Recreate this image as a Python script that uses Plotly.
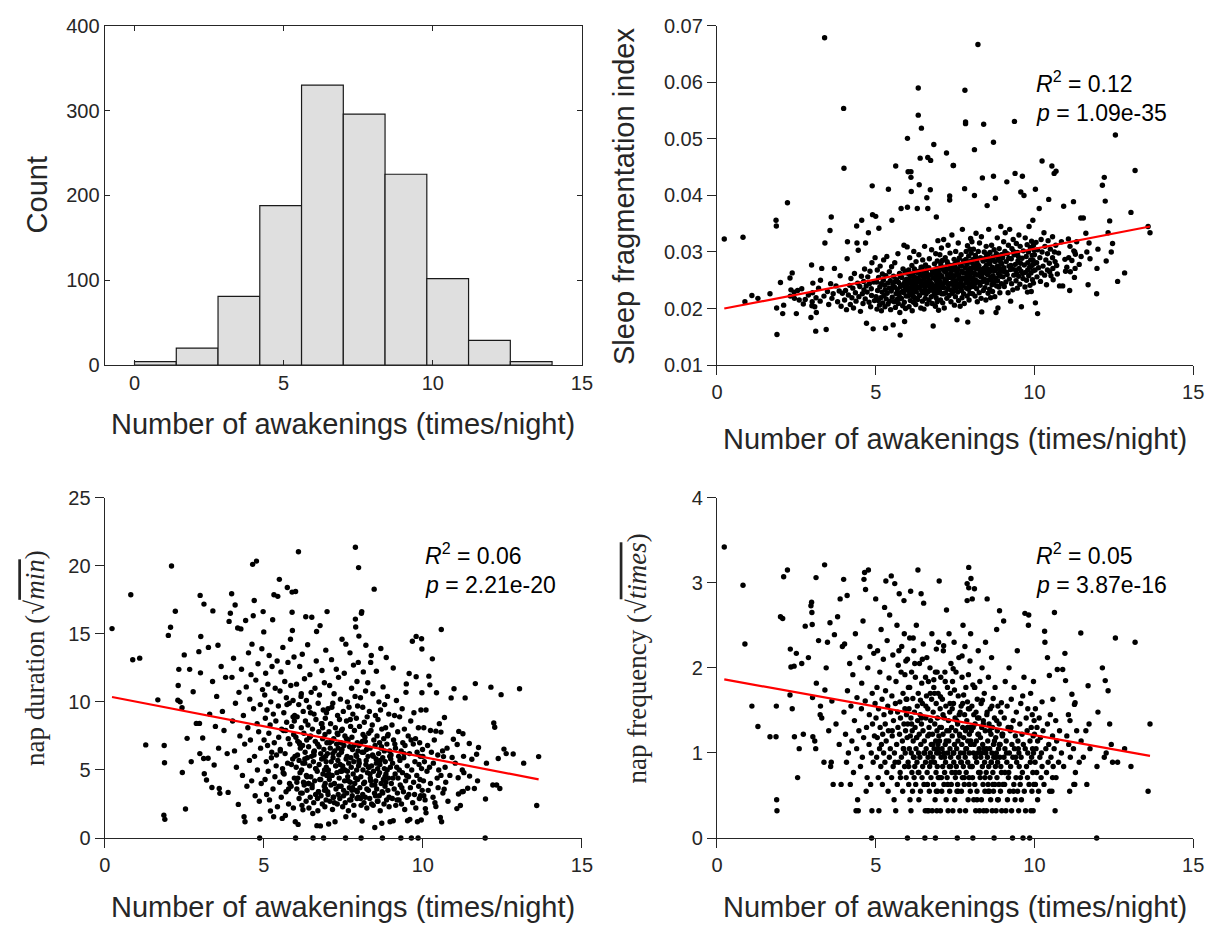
import plotly.graph_objects as go

# ---------------- data ----------------
bin_edges = [0.0, 1.4, 2.8, 4.2, 5.6, 7.0, 8.4, 9.8, 11.2, 12.6, 14.0]
bin_counts = [4, 20, 81, 188, 330, 296, 225, 102, 29, 4]

awakenings = [
    # < 2
    0.23, 0.82, 0.88, 1.10, 1.29, 1.67, 1.86, 1.87, 1.88, 1.89,
    # 2-3
    2.00, 2.07, 2.10, 2.22, 2.30, 2.31, 2.33, 2.37, 2.43, 2.44,
    2.50, 2.54, 2.59, 2.67, 2.72, 2.78, 2.88, 2.96, 2.98, 2.99,
    # 3-4
    3.00, 3.01, 3.02, 3.08, 3.11, 3.12, 3.13, 3.20, 3.25, 3.26,
    3.30, 3.37, 3.39, 3.40, 3.44, 3.48, 3.52, 3.56, 3.58, 3.60,
    3.62, 3.66, 3.70, 3.75, 3.80, 3.85, 3.88, 3.91, 3.95, 3.99,
    # 4-5
    4.00, 4.02, 4.05, 4.08, 4.10, 4.11, 4.14, 4.18, 4.20, 4.22,
    4.25, 4.28, 4.30, 4.33, 4.36, 4.38, 4.40, 4.41, 4.43, 4.45,
    4.47, 4.50, 4.52, 4.55, 4.56, 4.58, 4.60, 4.62, 4.63, 4.65,
    4.67, 4.68, 4.70, 4.71, 4.73, 4.75, 4.77, 4.79, 4.80, 4.82,
    4.84, 4.86, 4.87, 4.88, 4.89, 4.90, 4.92, 4.94, 4.96, 4.98,
    # 5-6
    5.00, 5.01, 5.03, 5.04, 5.05, 5.06, 5.08, 5.09, 5.10, 5.12,
    5.13, 5.14, 5.16, 5.17, 5.18, 5.20, 5.21, 5.22, 5.24, 5.25,
    5.26, 5.28, 5.29, 5.30, 5.31, 5.32, 5.33, 5.35, 5.36, 5.38,
    5.39, 5.40, 5.42, 5.43, 5.44, 5.46, 5.47, 5.49, 5.50, 5.51,
    5.52, 5.54, 5.55, 5.56, 5.58, 5.59, 5.60, 5.62, 5.63, 5.64,
    5.66, 5.67, 5.68, 5.70, 5.71, 5.72, 5.74, 5.75, 5.76, 5.77,
    5.78, 5.80, 5.81, 5.82, 5.84, 5.85, 5.86, 5.88, 5.89, 5.89,
    5.90, 5.91, 5.92, 5.93, 5.94, 5.95, 5.96, 5.97, 5.98, 5.99,
    # 6-7
    6.00, 6.00, 6.01, 6.02, 6.03, 6.04, 6.05, 6.06, 6.07, 6.08,
    6.09, 6.10, 6.11, 6.11, 6.12, 6.13, 6.14, 6.15, 6.16, 6.17,
    6.18, 6.19, 6.20, 6.21, 6.22, 6.23, 6.24, 6.25, 6.26, 6.27,
    6.28, 6.29, 6.30, 6.31, 6.32, 6.33, 6.34, 6.34, 6.35, 6.36,
    6.37, 6.38, 6.39, 6.40, 6.41, 6.42, 6.43, 6.44, 6.45, 6.46,
    6.47, 6.48, 6.49, 6.50, 6.51, 6.52, 6.53, 6.54, 6.55, 6.56,
    6.57, 6.58, 6.59, 6.60, 6.61, 6.62, 6.63, 6.64, 6.64, 6.65,
    6.66, 6.67, 6.68, 6.69, 6.70, 6.71, 6.72, 6.73, 6.74, 6.75,
    6.76, 6.77, 6.78, 6.79, 6.80, 6.81, 6.82, 6.83, 6.84, 6.85,
    6.86, 6.87, 6.88, 6.89, 6.90, 6.905, 6.91, 6.92, 6.925, 6.93,
    6.935, 6.94, 6.945, 6.95, 6.96, 6.965, 6.97, 6.98, 6.985, 6.99,
    # 7-8
    7.00, 7.01, 7.02, 7.03, 7.04, 7.05, 7.06, 7.07, 7.08, 7.09,
    7.10, 7.11, 7.12, 7.13, 7.14, 7.15, 7.16, 7.17, 7.18, 7.19,
    7.20, 7.21, 7.22, 7.23, 7.24, 7.25, 7.26, 7.27, 7.28, 7.29,
    7.30, 7.31, 7.32, 7.33, 7.33, 7.34, 7.35, 7.36, 7.37, 7.38,
    7.39, 7.40, 7.41, 7.42, 7.43, 7.44, 7.45, 7.46, 7.47, 7.48,
    7.49, 7.50, 7.51, 7.52, 7.53, 7.54, 7.55, 7.56, 7.57, 7.58,
    7.58, 7.59, 7.60, 7.61, 7.62, 7.63, 7.64, 7.65, 7.66, 7.67,
    7.68, 7.69, 7.70, 7.71, 7.72, 7.73, 7.74, 7.75, 7.76, 7.77,
    7.78, 7.79, 7.80, 7.81, 7.82, 7.83, 7.83, 7.84, 7.85, 7.86,
    7.87, 7.88, 7.88, 7.89, 7.90, 7.90, 7.91, 7.92, 7.93, 7.93,
    7.94, 7.95, 7.95, 7.96, 7.97, 7.97, 7.98, 7.98, 7.99, 7.99,
    # 8-9
    8.00, 8.01, 8.02, 8.03, 8.04, 8.05, 8.06, 8.07, 8.08, 8.09,
    8.10, 8.11, 8.11, 8.12, 8.13, 8.14, 8.15, 8.16, 8.17, 8.18,
    8.19, 8.20, 8.21, 8.22, 8.23, 8.24, 8.25, 8.26, 8.27, 8.28,
    8.29, 8.30, 8.31, 8.32, 8.33, 8.34, 8.35, 8.36, 8.37, 8.38,
    8.39, 8.40, 8.41, 8.42, 8.43, 8.44, 8.45, 8.46, 8.47, 8.48,
    8.49, 8.50, 8.51, 8.52, 8.53, 8.54, 8.55, 8.56, 8.57, 8.58,
    8.59, 8.60, 8.61, 8.62, 8.63, 8.64, 8.65, 8.66, 8.67, 8.68,
    8.69, 8.70, 8.71, 8.71, 8.72, 8.73, 8.74, 8.75, 8.76, 8.77,
    8.78, 8.79, 8.80, 8.81, 8.82, 8.83, 8.84, 8.85, 8.86, 8.87,
    8.88, 8.89, 8.90, 8.91, 8.92, 8.93, 8.94, 8.96, 8.97, 8.98,
    # 9-10
    9.00, 9.01, 9.03, 9.04, 9.05, 9.07, 9.07, 9.08, 9.10, 9.11,
    9.13, 9.14, 9.15, 9.17, 9.18, 9.20, 9.21, 9.22, 9.24, 9.25,
    9.27, 9.28, 9.29, 9.31, 9.32, 9.33, 9.35, 9.36, 9.37, 9.39,
    9.40, 9.42, 9.43, 9.44, 9.46, 9.47, 9.48, 9.50, 9.51, 9.52,
    9.54, 9.55, 9.57, 9.58, 9.59, 9.61, 9.62, 9.64, 9.65, 9.67,
    9.68, 9.70, 9.71, 9.72, 9.74, 9.75, 9.77, 9.78, 9.79, 9.79,
    9.81, 9.82, 9.83, 9.85, 9.86, 9.87, 9.88, 9.89, 9.90, 9.91,
    9.92, 9.93, 9.94, 9.95, 9.96, 9.96, 9.97, 9.97, 9.98, 9.99,
    # 10-11
    10.00, 10.02, 10.03, 10.03, 10.05, 10.07, 10.08, 10.10, 10.10, 10.13,
    10.15, 10.17, 10.19, 10.21, 10.22, 10.24, 10.24, 10.27, 10.30, 10.32,
    10.33, 10.36, 10.38, 10.41, 10.41, 10.43, 10.45, 10.47, 10.48, 10.50,
    10.52, 10.55, 10.57, 10.57, 10.58, 10.59, 10.62, 10.63, 10.65, 10.67,
    10.68, 10.70, 10.72, 10.76, 10.79, 10.85, 10.89, 10.92, 10.96, 10.98,
    # 11-12
    11.02, 11.07, 11.08, 11.11, 11.12, 11.13, 11.18, 11.23, 11.24, 11.26,
    11.27, 11.28, 11.29, 11.33, 11.41, 11.46, 11.47, 11.54, 11.62, 11.65,
    11.69, 11.72, 11.75, 11.96, 11.97, 12.00,
    # > 12
    12.14, 12.20, 12.23, 12.26, 12.32, 12.37, 12.42, 12.46, 12.55, 12.62,
    12.84, 13.04, 13.17, 13.58, 13.64,
    # dense core (second pass)
    5.52, 5.61, 5.69, 5.78, 5.87, 5.96, 6.04, 6.13, 6.21, 6.29,
    6.36, 6.44, 6.52, 6.58, 6.63, 6.69, 6.74, 6.79, 6.85, 6.91,
    6.96, 7.02, 7.07, 7.12, 7.17, 7.22, 7.27, 7.31, 7.36, 7.41,
    7.46, 7.51, 7.55, 7.60, 7.65, 7.70, 7.74, 7.79, 7.84, 7.89,
    7.94, 7.99, 8.04, 8.09, 8.14, 8.19, 8.24, 8.29, 8.34, 8.39,
    8.44, 8.49, 8.54, 8.59, 8.64, 8.69, 8.74, 8.79, 8.84, 8.89,
    8.94, 8.99, 9.06, 9.12, 9.19, 9.26, 9.34, 9.41, 9.49, 9.56,
    6.07, 6.23, 6.41, 6.57, 6.72, 6.88, 7.04, 7.19, 7.34, 7.48,
    7.63, 7.77, 7.92, 8.06, 8.21, 8.36, 8.51, 8.66, 8.81, 8.96,
    5.73, 5.92, 6.18, 6.47, 6.83, 7.14, 7.44, 7.72, 8.12, 9.63,
]

sleep_fragmentation = [
    # < 2
    0.0323, 0.0326, 0.0212, 0.0223, 0.0218, 0.0226, 0.0356, 0.0346, 0.0201, 0.0154,
    # 2-3
    0.0246, 0.0191, 0.0206, 0.0387, 0.0254, 0.0222, 0.0233, 0.0263, 0.0229, 0.0218,
    0.0191, 0.0232, 0.0215, 0.0235, 0.0208, 0.0216, 0.0224, 0.0184, 0.0277, 0.0205,
    # 3-4
    0.0212, 0.0228, 0.0245, 0.0203, 0.0160, 0.0219, 0.0193, 0.0236, 0.0213, 0.0250,
    0.0271, 0.0222, 0.0679, 0.0316, 0.0163, 0.0230, 0.0207, 0.0338, 0.0244, 0.0362,
    0.0218, 0.0226, 0.0271, 0.0240, 0.0212, 0.0231, 0.0258, 0.0204, 0.0227, 0.0554,
    # 4-5
    0.0448, 0.0215, 0.0232, 0.0198, 0.0288, 0.0318, 0.0224, 0.0241, 0.0207, 0.0253,
    0.0219, 0.0236, 0.0201, 0.0262, 0.0228, 0.0213, 0.0346, 0.0316, 0.0245, 0.0303,
    0.0221, 0.0239, 0.0195, 0.0257, 0.0356, 0.0226, 0.0209, 0.0248, 0.0233, 0.0270,
    0.0217, 0.0316, 0.0240, 0.0174, 0.0229, 0.0256, 0.0334, 0.0211, 0.0244, 0.0266,
    0.0203, 0.0235, 0.0223, 0.0281, 0.0417, 0.0366, 0.0164, 0.0247, 0.0214, 0.0290,
    # 5-6
    0.0363, 0.0221, 0.0247, 0.0199, 0.0268, 0.0232, 0.0214, 0.0255, 0.0342, 0.0206,
    0.0238, 0.0275, 0.0219, 0.0244, 0.0196, 0.0229, 0.0261, 0.0210, 0.0250, 0.0286,
    0.0223, 0.0241, 0.0203, 0.0233, 0.0165, 0.0258, 0.0217, 0.0292, 0.0227, 0.0245,
    0.0208, 0.0411, 0.0236, 0.0265, 0.0213, 0.0249, 0.0198, 0.0231, 0.0274, 0.0356,
    0.0220, 0.0243, 0.0171, 0.0257, 0.0212, 0.0238, 0.0281, 0.0202, 0.0452, 0.0226,
    0.0251, 0.0216, 0.0234, 0.0297, 0.0209, 0.0246, 0.0224, 0.0262, 0.0193, 0.0153,
    0.0239, 0.0377, 0.0218, 0.0255, 0.0230, 0.0205, 0.0270, 0.0243, 0.0228, 0.0312,
    0.0211, 0.0177, 0.0248, 0.0235, 0.0200, 0.0266, 0.0222, 0.0252, 0.0240, 0.0309,
    # 6-7
    0.0379, 0.0501, 0.0245, 0.0442, 0.0222, 0.0268, 0.0203, 0.0251, 0.0290, 0.0234,
    0.0214, 0.0257, 0.0442, 0.0432, 0.0407, 0.0239, 0.0276, 0.0196, 0.0227, 0.0262,
    0.0248, 0.0211, 0.0301, 0.0233, 0.0270, 0.0219, 0.0255, 0.0242, 0.0207, 0.0283,
    0.0229, 0.0264, 0.0246, 0.0377, 0.0216, 0.0253, 0.0590, 0.0542, 0.0236, 0.0295,
    0.0419, 0.0223, 0.0260, 0.0466, 0.0249, 0.0201, 0.0273, 0.0519, 0.0231, 0.0258,
    0.0213, 0.0286, 0.0244, 0.0228, 0.0265, 0.0199, 0.0252, 0.0310, 0.0237, 0.0218,
    0.0277, 0.0247, 0.0226, 0.0263, 0.0396, 0.0208, 0.0241, 0.0467, 0.0377, 0.0256,
    0.0230, 0.0272, 0.0215, 0.0288, 0.0249, 0.0235, 0.0410, 0.0462, 0.0260, 0.0221,
    0.0304, 0.0243, 0.0209, 0.0267, 0.0232, 0.0169, 0.0254, 0.0490, 0.0225, 0.0279,
    0.0240, 0.0262, 0.0204, 0.0297, 0.0250, 0.0219, 0.0362, 0.0236, 0.0271, 0.0246,
    0.0212, 0.0284, 0.0258, 0.0228, 0.0320, 0.0242, 0.0266, 0.0197, 0.0253, 0.0233,
    # 7-8
    0.0262, 0.0231, 0.0295, 0.0248, 0.0215, 0.0279, 0.0240, 0.0307, 0.0226, 0.0256,
    0.0285, 0.0210, 0.0269, 0.0244, 0.0322, 0.0237, 0.0201, 0.0273, 0.0251, 0.0290,
    0.0228, 0.0264, 0.0247, 0.0475, 0.0218, 0.0283, 0.0259, 0.0235, 0.0312, 0.0242,
    0.0270, 0.0223, 0.0255, 0.0399, 0.0392, 0.0298, 0.0233, 0.0276, 0.0212, 0.0261,
    0.0245, 0.0330, 0.0227, 0.0268, 0.0252, 0.0453, 0.0453, 0.0239, 0.0287, 0.0206,
    0.0258, 0.0274, 0.0221, 0.0301, 0.0249, 0.0236, 0.0265, 0.0180, 0.0282, 0.0243,
    0.0229, 0.0270, 0.0316, 0.0214, 0.0260, 0.0289, 0.0238, 0.0253, 0.0204, 0.0277,
    0.0247, 0.0295, 0.0232, 0.0266, 0.0219, 0.0340, 0.0254, 0.0241, 0.0284, 0.0226,
    0.0263, 0.0209, 0.0412, 0.0586, 0.0272, 0.0527, 0.0530, 0.0245, 0.0301, 0.0236,
    0.0257, 0.0278, 0.0222, 0.0311, 0.0176, 0.0250, 0.0268, 0.0234, 0.0293, 0.0244,
    0.0215, 0.0283, 0.0261, 0.0240, 0.0305, 0.0227, 0.0271, 0.0252, 0.0324, 0.0238,
    # 8-9
    0.0265, 0.0298, 0.0243, 0.0318, 0.0272, 0.0226, 0.0287, 0.0254, 0.0305, 0.0239,
    0.0276, 0.0481, 0.0400, 0.0261, 0.0222, 0.0294, 0.0250, 0.0333, 0.0270, 0.0235,
    0.0282, 0.0212, 0.0259, 0.0667, 0.0301, 0.0247, 0.0275, 0.0228, 0.0316, 0.0263,
    0.0241, 0.0290, 0.0256, 0.0218, 0.0327, 0.0194, 0.0268, 0.0431, 0.0248, 0.0284,
    0.0232, 0.0526, 0.0271, 0.0300, 0.0252, 0.0237, 0.0289, 0.0264, 0.0215, 0.0310,
    0.0277, 0.0245, 0.0382, 0.0260, 0.0293, 0.0227, 0.0269, 0.0340, 0.0251, 0.0280,
    0.0234, 0.0299, 0.0266, 0.0219, 0.0285, 0.0255, 0.0312, 0.0242, 0.0273, 0.0230,
    0.0291, 0.0258, 0.0494, 0.0434, 0.0246, 0.0304, 0.0267, 0.0221, 0.0283, 0.0395,
    0.0253, 0.0193, 0.0297, 0.0240, 0.0274, 0.0325, 0.0249, 0.0201, 0.0286, 0.0262,
    0.0238, 0.0306, 0.0271, 0.0228, 0.0292, 0.0257, 0.0345, 0.0244, 0.0279, 0.0266,
    # 9-10
    0.0290, 0.0256, 0.0318, 0.0272, 0.0239, 0.0301, 0.0265, 0.0334, 0.0247, 0.0283,
    0.0424, 0.0260, 0.0297, 0.0228, 0.0312, 0.0275, 0.0252, 0.0340, 0.0269, 0.0213,
    0.0288, 0.0244, 0.0306, 0.0270, 0.0233, 0.0322, 0.0259, 0.0295, 0.0531, 0.0439,
    0.0278, 0.0249, 0.0315, 0.0262, 0.0236, 0.0299, 0.0284, 0.0257, 0.0330, 0.0271,
    0.0243, 0.0310, 0.0406, 0.0266, 0.0203, 0.0289, 0.0434, 0.0253, 0.0302, 0.0400,
    0.0277, 0.0238, 0.0325, 0.0264, 0.0292, 0.0250, 0.0313, 0.0229, 0.0281, 0.0268,
    0.0300, 0.0258, 0.0345, 0.0273, 0.0241, 0.0308, 0.0286, 0.0263, 0.0230, 0.0319,
    0.0276, 0.0294, 0.0251, 0.0356, 0.0267, 0.0285, 0.0312, 0.0245, 0.0279, 0.0303,
    # 10-11
    0.0295, 0.0268, 0.0411, 0.0210, 0.0317, 0.0281, 0.0256, 0.0191, 0.0304, 0.0272,
    0.0377, 0.0290, 0.0248, 0.0322, 0.0263, 0.0461, 0.0300, 0.0275, 0.0334, 0.0259,
    0.0310, 0.0286, 0.0242, 0.0297, 0.0268, 0.0320, 0.0393, 0.0280, 0.0265, 0.0305,
    0.0258, 0.0452, 0.0290, 0.0327, 0.0271, 0.0251, 0.0439, 0.0300, 0.0283, 0.0312,
    0.0443, 0.0276, 0.0261, 0.0298, 0.0240, 0.0318, 0.0240, 0.0381, 0.0287, 0.0266,
    # 11-12
    0.0273, 0.0323, 0.0290, 0.0232, 0.0310, 0.0265, 0.0285, 0.0389, 0.0302, 0.0255,
    0.0300, 0.0271, 0.0296, 0.0318, 0.0278, 0.0360, 0.0292, 0.0360, 0.0333, 0.0300,
    0.0242, 0.0316, 0.0288, 0.0226, 0.0271, 0.0305,
    # > 12
    0.0418, 0.0432, 0.0390, 0.0284, 0.0334, 0.0355, 0.0300, 0.0315, 0.0507, 0.0248,
    0.0263, 0.0370, 0.0444, 0.0345, 0.0334,
    # dense core (second pass)
    0.0236, 0.0248, 0.0229, 0.0257, 0.0242, 0.0233, 0.0261, 0.0245, 0.0252, 0.0238,
    0.0266, 0.0244, 0.0255, 0.0231, 0.0270, 0.0249, 0.0259, 0.0240, 0.0264, 0.0253,
    0.0246, 0.0272, 0.0258, 0.0237, 0.0266, 0.0251, 0.0279, 0.0243, 0.0262, 0.0256,
    0.0270, 0.0248, 0.0283, 0.0259, 0.0241, 0.0275, 0.0264, 0.0252, 0.0287, 0.0260,
    0.0268, 0.0255, 0.0281, 0.0263, 0.0290, 0.0247, 0.0276, 0.0269, 0.0258, 0.0285,
    0.0272, 0.0296, 0.0261, 0.0279, 0.0250, 0.0288, 0.0267, 0.0293, 0.0275, 0.0259,
    0.0282, 0.0270, 0.0297, 0.0264, 0.0289, 0.0276, 0.0301, 0.0268, 0.0292, 0.0280,
    0.0228, 0.0254, 0.0239, 0.0262, 0.0246, 0.0234, 0.0257, 0.0269, 0.0244, 0.0278,
    0.0253, 0.0282, 0.0266, 0.0248, 0.0274, 0.0262, 0.0286, 0.0256, 0.0271, 0.0295,
    0.0217, 0.0263, 0.0221, 0.0273, 0.0237, 0.0226, 0.0231, 0.0239, 0.0244, 0.0262,
]

nap_duration = [
    # < 2
    15.38, 17.87, 13.09, 13.21, 6.84, 10.15, 1.68, 6.80, 5.53, 1.37,
    # 2-3
    14.88, 15.48, 19.98, 16.65, 10.12, 11.20, 12.39, 10.00, 9.57, 4.81,
    13.45, 2.13, 7.32, 12.39, 5.60, 10.74, 8.42, 13.69, 8.42, 6.20,
    # 3-4
    17.82, 12.13, 14.80, 7.35, 5.84, 17.18, 4.72, 4.26, 5.86, 14.00,
    9.10, 3.71, 11.50, 16.68, 5.36, 8.20, 10.40, 14.16, 6.60, 3.64,
    3.28, 12.60, 9.30, 7.90, 11.80, 6.20, 3.35, 15.91, 16.51, 17.94,
    # 4-5
    11.8, 8.6, 13.2, 6.4, 17.11, 9.9, 5.2, 15.43, 2.47, 10.7,
    7.5, 15.36, 12.4, 4.6, 9.0, 1.56, 6.9, 1.20, 15.98, 11.1,
    3.8, 8.1, 13.6, 5.7, 10.2, 7.2, 12.0, 4.2, 14.24, 20.10,
    16.32, 9.5, 17.44, 6.0, 3.1, 11.6, 20.34, 8.4, 5.0, 12.8,
    7.8, 2.7, 0.0, 1.39, 9.8, 6.6, 4.0, 13.9, 10.9, 16.63,
    # 5-6
    15.14, 7.2, 10.5, 4.3, 8.8, 12.1, 5.6, 3.2, 9.4, 6.8,
    11.3, 4.9, 7.7, 13.4, 2.8, 8.3, 1.99, 10.0, 5.9, 6.3,
    12.6, 16.03, 3.6, 9.1, 1.56, 17.87, 7.0, 4.5, 11.0, 8.6,
    5.3, 6.1, 13.0, 2.3, 17.75, 9.7, 7.4, 19.0, 4.1, 10.8,
    6.5, 12.2, 3.0, 8.0, 1.44, 5.1, 14.0, 7.9, 9.2, 4.7,
    11.5, 6.2, 1.65, 3.4, 10.3, 8.5, 18.40, 5.5, 12.9, 7.3,
    2.5, 9.9, 4.0, 6.9, 14.6, 11.2, 3.8, 8.2, 18.06, 16.58,
    15.24, 5.8, 10.1, 2.2, 7.6, 13.3, 4.4, 9.0, 6.0, 1.2,
    # 6-7
    18.11, 0.0, 7.4, 5.2, 11.3, 3.6, 8.9, 6.1, 4.4, 1.0,
    21.03, 9.8, 5.7, 2.9, 7.0, 12.6, 4.8, 6.6, 3.3, 10.4,
    8.1, 5.0, 2.4, 13.5, 6.8, 2.08, 9.3, 4.1, 7.7, 3.9,
    11.7, 5.5, 6.3, 8.6, 16.25, 2.7, 4.6, 10.1, 7.2, 3.5,
    5.9, 14.2, 8.3, 4.0, 6.7, 2.2, 9.6, 5.3, 12.0, 3.0,
    7.5, 4.5, 10.7, 6.0, 16.22, 3.7, 8.0, 1.8, 0.0, 5.6,
    2.6, 9.1, 6.4, 4.2, 11.0, 7.1, 3.2, 5.1, 8.7, 13.0,
    15.17, 0.91, 4.9, 6.9, 2.0, 9.9, 3.4, 7.8, 5.4, 10.5,
    4.3, 15.60, 0.89, 6.2, 3.1, 8.4, 5.8, 12.3, 2.5, 7.3,
    4.7, 9.4, 0.0, 6.5, 3.8, 11.4, 5.0, 2.3, 7.6, 4.0,
    8.8, 3.6, 6.0, 13.8, 2.8, 5.2, 9.2, 4.6, 7.0, 16.63,
    # 7-8
    6.2, 3.4, 9.5, 5.0, 1.03, 7.8, 4.3, 11.2, 2.7, 6.6,
    8.4, 3.9, 5.6, 13.1, 7.1, 4.6, 2.1, 9.9, 5.9, 3.0,
    7.3, 10.6, 4.0, 6.4, 1.20, 8.1, 5.3, 3.6, 12.4, 6.9,
    4.8, 2.5, 9.0, 5.7, 7.6, 3.2, 11.8, 6.1, 4.4, 8.7,
    2.9, 5.4, 10.2, 7.0, 3.8, 6.3, 4.9, 14.6, 8.0, 2.3,
    5.1, 9.3, 3.5, 6.8, 12.1, 4.2, 7.5, 2.6, 0.0, 14.24,
    1.56, 5.8, 8.6, 3.3, 6.0, 10.0, 4.5, 7.2, 2.0, 5.5,
    9.6, 3.7, 6.7, 13.6, 4.1, 8.2, 2.8, 5.2, 11.0, 7.4,
    3.1, 6.5, 9.1, 4.7, 12.7, 5.6, 2.4, 1.68, 7.9, 4.0,
    10.4, 21.36, 16.08, 15.50, 6.1, 3.5, 8.8, 5.0, 11.5, 2.9,
    7.0, 4.3, 9.7, 6.4, 3.0, 12.9, 5.3, 19.86, 14.83, 6.8,
    # 8-9
    5.5, 8.2, 3.7, 6.9, 10.3, 4.5, 0.0, 16.51, 16.63, 1.25,
    7.1, 3.2, 9.6, 5.0, 12.2, 6.3, 2.6, 8.5, 4.1, 7.4,
    3.0, 10.8, 14.16, 5.7, 6.5, 2.2, 8.9, 4.8, 11.4, 6.0,
    3.5, 7.7, 5.2, 9.3, 2.9, 6.6, 4.4, 12.9, 7.9, 13.40,
    5.3, 3.9, 8.3, 6.1, 10.6, 2.4, 4.9, 7.2, 18.28, 3.3,
    0.77, 6.8, 9.0, 4.2, 5.8, 12.25, 3.6, 7.5, 2.7, 5.1,
    8.7, 4.6, 6.2, 10.0, 3.1, 7.0, 5.4, 2.0, 9.4, 13.92,
    4.0, 6.7, 1.08, 8.0, 3.4, 0.0, 5.9, 11.1, 4.3, 7.3,
    2.5, 6.4, 9.8, 3.8, 5.6, 8.1, 4.7, 13.26, 2.8, 6.9,
    5.0, 10.4, 3.5, 7.6, 4.4, 9.1, 2.3, 6.0, 1.20, 5.2,
    # 9-10
    6.1, 4.0, 8.3, 2.9, 5.5, 12.49, 1.27, 7.2, 3.6, 9.0,
    4.7, 6.6, 2.4, 10.1, 5.2, 3.3, 7.8, 4.4, 6.0, 2.8,
    8.9, 5.7, 3.9, 0.0, 6.4, 2.5, 9.5, 4.8, 7.0, 3.4,
    5.9, 8.0, 2.1, 6.8, 4.2, 10.7, 11.32, 3.0, 5.3, 1.27,
    7.5, 4.5, 12.08, 6.2, 1.37, 3.7, 8.6, 0.0, 5.0, 14.45,
    2.6, 6.9, 4.1, 9.2, 3.2, 5.6, 7.3, 2.2, 14.81, 11.84,
    4.6, 6.3, 1.20, 0.0, 8.1, 3.8, 5.4, 2.9, 7.0, 4.3,
    6.0, 3.1, 9.4, 1.32, 5.1, 14.64, 13.88, 10.67, 3.5, 6.5,
    # 10-11
    6.0, 4.2, 8.1, 3.1, 5.6, 2.8, 2.16, 9.40, 1.85, 4.9,
    6.8, 3.5, 11.89, 5.2, 11.25, 7.90, 4.0, 6.3, 13.16, 3.0,
    5.5, 7.2, 2.6, 7.85, 2.32, 10.67, 4.4, 6.1, 3.7, 5.0,
    8.4, 1.51, 7.78, 4.60, 15.31, 1.20, 6.4, 3.3, 5.98, 3.59,
    8.85, 5.2, 4.1, 6.6, 2.7, 4.60, 10.29, 5.91, 7.25, 10.96,
    # 11-12
    5.5, 2.16, 6.87, 4.43, 3.23, 7.83, 2.39, 3.40, 5.0, 7.66,
    3.42, 6.0, 4.8, 10.29, 3.66, 6.94, 4.55, 5.79, 3.64, 11.34,
    6.15, 4.2, 6.65, 0.0, 2.87, 5.5,
    # > 12
    11.08, 3.90, 8.45, 8.14, 3.90, 5.84, 3.64, 10.53, 6.53, 6.20,
    6.17, 10.96, 5.50, 2.39, 5.98,
    # dense core (second pass)
    6.4, 4.8, 7.9, 3.6, 5.4, 8.6, 4.1, 6.9, 3.3, 5.8,
    4.5, 7.4, 3.9, 6.1, 5.1, 2.9, 6.7, 4.3, 8.1, 3.5,
    5.6, 3.2, 7.0, 4.6, 6.2, 2.6, 5.3, 7.7, 3.8, 4.9,
    6.5, 3.1, 5.0, 7.3, 4.2, 2.8, 5.9, 3.7, 6.8, 4.4,
    3.4, 5.7, 2.9, 6.3, 4.0, 7.1, 3.6, 5.2, 4.7, 2.5,
    6.0, 3.9, 5.5, 2.7, 4.8, 6.6, 3.3, 5.1, 4.1, 7.5,
    3.0, 5.8, 4.4, 6.9, 2.8, 5.0, 3.7, 6.2, 4.6, 3.2,
    7.1, 5.5, 4.0, 6.3, 3.4, 5.9, 4.7, 3.0, 6.6, 5.3,
    4.9, 3.5, 6.0, 2.4, 5.4, 4.2, 3.1, 5.7, 4.5, 6.4,
    9.8, 8.9, 10.6, 9.2, 8.4, 9.6, 7.9, 8.7, 7.6, 7.2,
]

nap_frequency = [
    # < 2
    3.42, 2.97, 2.28, 1.55, 1.31, 1.19, 1.19, 1.55, 0.45, 0.32,
    # 2-3
    2.60, 2.58, 3.07, 3.15, 1.68, 2.22, 2.01, 1.52, 2.02, 1.19,
    2.17, 0.71, 1.05, 2.05, 1.22, 2.49, 2.12, 2.73, 2.77, 2.65,
    # 3-4
    2.51, 1.65, 1.19, 1.14, 1.05, 3.06, 1.82, 2.32, 1.45, 1.55,
    1.41, 0.89, 3.21, 1.74, 2.00, 2.30, 1.26, 2.53, 0.84, 0.89,
    1.61, 0.63, 2.39, 1.34, 2.60, 1.10, 2.81, 0.63, 2.25, 3.04,
    # 4-5
    1.48, 2.28, 1.22, 0.89, 2.85, 1.73, 1.00, 2.05, 0.63, 1.55,
    1.14, 1.92, 0.77, 1.38, 2.40, 0.32, 1.05, 1.65, 0.45, 0.32,
    1.26, 2.12, 0.84, 1.52, 1.82, 0.95, 2.55, 1.18, 3.04, 3.12,
    1.61, 2.92, 0.55, 1.30, 0.71, 2.00, 3.15, 1.10, 1.45, 2.25,
    0.63, 1.00, 0.0, 0.32, 1.70, 1.34, 0.89, 2.17, 1.20, 1.58,
    # 5-6
    2.81, 1.41, 0.95, 1.77, 1.18, 2.20, 0.71, 1.52, 0.32, 1.05,
    1.95, 1.30, 0.84, 2.45, 1.10, 1.63, 0.63, 1.22, 2.10, 1.00,
    1.45, 2.71, 0.89, 1.34, 1.73, 3.02, 1.14, 0.77, 2.32, 1.55,
    0.55, 1.26, 1.88, 0.95, 2.62, 1.05, 1.48, 3.08, 0.71, 1.67,
    1.20, 2.15, 0.84, 1.38, 0.45, 1.00, 2.99, 1.58, 0.32, 1.84,
    1.10, 2.50, 0.63, 1.30, 2.03, 0.89, 2.87, 1.22, 1.60, 0.77,
    1.41, 1.95, 0.95, 2.25, 1.14, 0.55, 1.70, 1.05, 2.79, 1.34,
    2.40, 0.84, 1.52, 1.00, 1.26, 2.08, 0.71, 1.45, 1.63, 1.18,
    # 6-7
    2.10, 0.0, 1.34, 0.89, 1.77, 0.63, 1.52, 1.05, 2.35, 0.45,
    1.20, 2.90, 0.32, 1.41, 1.00, 1.95, 0.77, 1.26, 0.55, 1.64,
    1.14, 0.95, 2.20, 0.71, 1.48, 0.84, 1.30, 1.89, 0.63, 1.05,
    2.50, 1.18, 0.89, 1.55, 1.38, 3.15, 0.77, 1.70, 1.00, 0.45,
    1.22, 2.05, 0.95, 1.45, 0.55, 1.10, 2.87, 1.34, 1.82, 0.71,
    1.58, 0.84, 1.26, 2.28, 2.76, 0.63, 1.14, 1.00, 0.0, 0.32,
    0.89, 1.41, 1.05, 1.67, 2.12, 0.77, 0.32, 1.20, 1.52, 0.95,
    1.84, 0.32, 1.30, 0.55, 0.84, 2.00, 1.00, 1.38, 0.71, 1.10,
    1.63, 2.40, 0.32, 1.22, 0.95, 1.48, 0.63, 1.77, 1.05, 0.89,
    1.34, 0.45, 0.0, 1.14, 0.77, 1.58, 2.22, 1.00, 0.32, 1.26,
    1.95, 0.84, 1.41, 0.55, 1.10, 1.70, 0.71, 2.30, 1.00, 1.20,
    # 7-8
    3.02, 1.14, 0.71, 1.52, 0.32, 1.89, 0.95, 1.30, 0.55, 1.05,
    1.63, 0.84, 1.22, 2.20, 1.00, 0.63, 1.41, 0.77, 1.95, 1.10,
    0.89, 1.55, 0.45, 2.68, 1.26, 0.71, 1.77, 1.00, 0.32, 1.38,
    1.14, 2.40, 0.84, 1.48, 0.55, 1.05, 1.70, 0.95, 2.05, 0.63,
    1.30, 0.77, 1.20, 1.84, 0.32, 1.00, 1.58, 0.89, 2.30, 1.10,
    0.45, 1.41, 0.71, 1.26, 1.95, 0.84, 1.05, 0.55, 0.0, 1.34,
    0.63, 1.14, 1.67, 0.95, 2.12, 0.77, 1.22, 0.32, 1.48, 1.00,
    0.89, 1.55, 0.55, 1.10, 1.89, 0.71, 1.30, 2.50, 0.84, 1.18,
    1.00, 0.63, 1.45, 2.25, 0.95, 1.26, 0.32, 1.77, 0.77, 1.05,
    1.38, 2.79, 2.99, 1.60, 0.89, 1.14, 0.45, 1.92, 3.18, 2.94,
    0.71, 1.22, 1.00, 1.52, 0.84, 2.08, 1.30, 0.55, 2.40, 1.10,
    # 8-9
    3.05, 1.26, 0.84, 1.55, 2.81, 0.71, 0.0, 1.30, 1.00, 0.45,
    1.10, 2.93, 1.77, 0.63, 1.34, 0.95, 0.32, 1.48, 1.14, 0.89,
    0.55, 1.63, 1.00, 1.22, 2.20, 0.77, 1.41, 1.05, 0.32, 1.84,
    0.71, 1.18, 0.95, 1.58, 0.45, 1.30, 2.00, 0.84, 1.10, 0.63,
    1.38, 0.32, 1.05, 1.70, 0.89, 0.55, 1.26, 2.30, 1.00, 0.77,
    0.32, 1.45, 2.81, 0.95, 1.14, 0.63, 1.89, 0.84, 1.34, 0.55,
    1.05, 0.71, 1.52, 0.45, 1.22, 0.89, 2.12, 1.00, 0.32, 1.30,
    0.77, 1.64, 0.55, 1.10, 0.95, 0.0, 1.41, 0.63, 1.77, 0.84,
    1.18, 0.32, 1.00, 2.45, 0.71, 1.26, 0.89, 1.55, 0.45, 1.05,
    0.63, 1.34, 2.67, 0.95, 1.10, 0.55, 1.48, 0.77, 0.32, 1.22,
    # 9-10
    1.22, 0.63, 2.55, 0.95, 1.41, 0.77, 1.05, 1.84, 0.32, 1.14,
    0.89, 1.55, 0.45, 1.30, 0.71, 2.00, 1.00, 0.55, 1.26, 0.84,
    1.63, 0.32, 1.10, 0.0, 0.95, 1.38, 0.63, 1.77, 1.05, 0.45,
    1.20, 0.71, 1.48, 0.89, 2.20, 0.55, 1.14, 0.32, 1.00, 0.84,
    1.34, 0.63, 1.58, 0.95, 0.45, 1.22, 0.77, 0.0, 1.10, 1.89,
    0.55, 2.64, 1.05, 0.32, 1.41, 0.84, 1.26, 0.71, 1.00, 1.52,
    2.50, 2.62, 0.63, 0.0, 1.14, 0.89, 1.70, 0.32, 1.30, 0.95,
    0.55, 1.45, 1.05, 0.77, 1.20, 0.32, 1.84, 1.00, 0.63, 1.38,
    # 10-11
    1.22, 0.89, 1.52, 0.63, 1.05, 0.77, 1.30, 1.14, 0.45, 0.55,
    1.41, 0.95, 1.18, 0.71, 1.00, 1.60, 0.84, 1.26, 0.63, 2.43,
    2.30, 1.05, 0.77, 2.12, 1.34, 0.89, 1.10, 1.91, 0.55, 1.45,
    0.95, 0.55, 1.20, 0.71, 1.63, 0.84, 1.05, 2.65, 0.32, 1.38,
    0.71, 1.14, 1.98, 0.89, 1.26, 1.00, 1.98, 0.84, 2.17, 1.85,
    # 11-12
    1.20, 1.45, 1.10, 0.55, 1.38, 0.95, 1.69, 1.05, 0.63, 1.57,
    0.63, 1.59, 0.77, 1.26, 0.89, 2.41, 1.14, 0.95, 1.26, 0.63,
    1.79, 1.34, 1.05, 0.0, 0.84, 1.48,
    # > 12
    2.00, 0.95, 1.85, 1.00, 1.73, 1.34, 1.10, 0.89, 2.35, 0.89,
    1.05, 0.84, 2.30, 0.55, 1.34,
    # dense core (second pass)
    1.26, 0.89, 1.48, 0.71, 1.05, 1.63, 0.84, 1.34, 0.95, 1.18,
    0.77, 1.41, 1.00, 1.55, 0.63, 1.22, 0.89, 1.10, 1.70, 0.55,
    1.05, 1.30, 0.71, 1.45, 0.95, 1.14, 0.63, 1.26, 0.84, 1.52,
    1.00, 0.77, 1.38, 0.55, 1.20, 0.89, 1.58, 0.71, 1.05, 1.30,
    0.63, 1.14, 0.84, 1.45, 0.95, 0.45, 1.22, 0.77, 1.00, 1.34,
    0.71, 1.05, 0.55, 1.26, 0.89, 0.63, 1.14, 0.95, 0.45, 1.10,
    0.84, 1.20, 0.63, 1.00, 0.77, 1.30, 0.55, 0.95, 1.05, 0.71,
    1.77, 2.05, 1.62, 1.89, 1.70, 1.95, 1.66, 1.84, 1.58, 1.74,
    1.45, 1.68, 1.52, 1.80, 1.41, 1.62, 1.48, 1.55, 1.38, 1.59,
    2.20, 1.92, 2.35, 2.10, 1.86, 2.26, 1.99, 2.14, 1.77, 1.67,
]

# least-squares lines as drawn in the reference (end points)
fit_x = [0.23, 13.64]
fit_sleep_fragmentation = [0.0200, 0.0345]
fit_nap_duration = [10.36, 4.31]
fit_nap_frequency = [1.864, 0.965]

stat_r2 = ["0.12", "0.06", "0.05"]
stat_p = ["1.09e-35", "2.21e-20", "3.87e-16"]

x_ticks = [0, 5, 10, 15]
x_title = "Number of awakenings (times/night)"

# ---------------- figure ----------------
lens = [len(awakenings), len(sleep_fragmentation), len(nap_duration), len(nap_frequency)]
assert len(set(lens)) == 1, f"length mismatch {lens}"

# the page body keeps its default 8 px margin, so the figure is 16 px smaller
OFF = 8
W, H = 1225 - 2 * OFF, 940 - 2 * OFF
FONT = "Liberation Sans, Arial, Helvetica, sans-serif"
SERIF = "Liberation Serif, Times New Roman, serif"
INK = "#262626"


def px(xp):
    return (xp - OFF) / W


def py(yp):
    return 1 - (yp - OFF) / H


left_dom = [px(100), px(584)]
right_dom = [px(721), px(1204)]
top_dom = [py(362.5), py(15)]
bot_dom = [py(847), py(498.3)]

fig = go.Figure()

centers = [(bin_edges[i] + bin_edges[i + 1]) / 2 for i in range(len(bin_counts))]
widths = [bin_edges[i + 1] - bin_edges[i] for i in range(len(bin_counts))]
fig.add_trace(go.Bar(
    x=centers, y=bin_counts, width=widths,
    marker=dict(color="#dfdfdf", line=dict(color="#1a1a1a", width=1.2)),
    xaxis="x", yaxis="y", showlegend=False, hoverinfo="skip",
))

panels = [
    ("x2", "y2", sleep_fragmentation, fit_sleep_fragmentation),
    ("x3", "y3", nap_duration, fit_nap_duration),
    ("x4", "y4", nap_frequency, fit_nap_frequency),
]
for xa, ya, yvals, fit in panels:
    fig.add_trace(go.Scatter(
        x=awakenings, y=yvals, mode="markers",
        marker=dict(color="black", size=5.4, line=dict(width=0)),
        xaxis=xa, yaxis=ya, showlegend=False, cliponaxis=False,
    ))
    fig.add_trace(go.Scatter(
        x=fit_x, y=fit, mode="lines",
        line=dict(color="#ff0000", width=2.2),
        xaxis=xa, yaxis=ya, showlegend=False,
    ))

tickfont = dict(family=FONT, size=20, color=INK)
common = dict(showgrid=False, zeroline=False, showline=True, linecolor=INK,
              linewidth=1.3, tickcolor=INK, tickwidth=1.3, tickfont=tickfont)

fig.update_layout(
    width=W, height=H, margin=dict(l=0, r=0, t=0, b=0), autosize=False,
    paper_bgcolor="white", plot_bgcolor="white", showlegend=False,
    xaxis=dict(domain=left_dom, anchor="y", range=[-1, 15], tickvals=x_ticks,
               ticks="inside", ticklen=5, mirror="ticks", **common),
    yaxis=dict(domain=top_dom, anchor="x", range=[0, 400], dtick=100,
               ticks="inside", ticklen=5, mirror="ticks", **common),
    xaxis2=dict(domain=right_dom, anchor="y2", range=[0, 15], tickvals=x_ticks,
                ticks="outside", ticklen=9, **common),
    yaxis2=dict(domain=top_dom, anchor="x2", range=[0.01, 0.07], dtick=0.01,
                tickformat=".2f", ticks="outside", ticklen=9, **common),
    xaxis3=dict(domain=left_dom, anchor="y3", range=[0, 15], tickvals=x_ticks,
                ticks="outside", ticklen=9, **common),
    yaxis3=dict(domain=bot_dom, anchor="x3", range=[0, 25], dtick=5,
                ticks="outside", ticklen=9, **common),
    xaxis4=dict(domain=right_dom, anchor="y4", range=[0, 15], tickvals=x_ticks,
                ticks="outside", ticklen=9, **common),
    yaxis4=dict(domain=bot_dom, anchor="x4", range=[0, 4], dtick=1,
                ticks="outside", ticklen=9, **common),
)

ann = []
title_font = dict(family=FONT, size=29, color=INK)
# x titles
for cx, cy in [(342, 423), (962, 438), (342, 918), (962, 918)]:
    ann.append(dict(text=x_title, x=px(cx), y=py(cy), xref="paper", yref="paper",
                    xanchor="center", yanchor="middle", showarrow=False, font=title_font))
# y titles
ann.append(dict(text="Count", x=px(31), y=py(188), xref="paper", yref="paper",
                textangle=-90, xanchor="center", yanchor="middle", showarrow=False,
                font=title_font))
ann.append(dict(text="Sleep fragmentation index", x=px(626), y=py(190), xref="paper",
                yref="paper", textangle=-90, xanchor="center", yanchor="middle",
                showarrow=False, font=title_font))
serif_font = dict(family=SERIF, size=27, color=INK)
OVER = "<span style='text-decoration:overline'>"
ann.append(dict(text=f"nap duration (√{OVER}<i>min</i></span>)", x=px(30), y=py(663),
                xref="paper", yref="paper", textangle=-90, xanchor="center",
                yanchor="middle", showarrow=False, font=serif_font))
ann.append(dict(text=f"nap frequency (√{OVER}<i>times</i></span>)", x=px(640),
                y=py(663), xref="paper", yref="paper", textangle=-90, xanchor="center",
                yanchor="middle", showarrow=False, font=serif_font))
# statistics
stat_font = dict(family=FONT, size=23, color="black")
for (lx, ry, pyy), r2, pv in zip([(1043, 73, 104), (423, 556, 588), (1043, 556, 588)],
                                 stat_r2, stat_p):
    ann.append(dict(text=f"<i>R</i><sup>2</sup> = {r2}", x=px(lx), y=py(ry), xref="paper",
                    yref="paper", xanchor="left", yanchor="middle", showarrow=False,
                    font=stat_font))
    ann.append(dict(text=f"<i>p</i> = {pv}", x=px(lx), y=py(pyy), xref="paper",
                    yref="paper", xanchor="left", yanchor="middle", showarrow=False,
                    font=stat_font))
fig.update_layout(annotations=ann)

fig.write_html("out.html", config={"displayModeBar": False})
